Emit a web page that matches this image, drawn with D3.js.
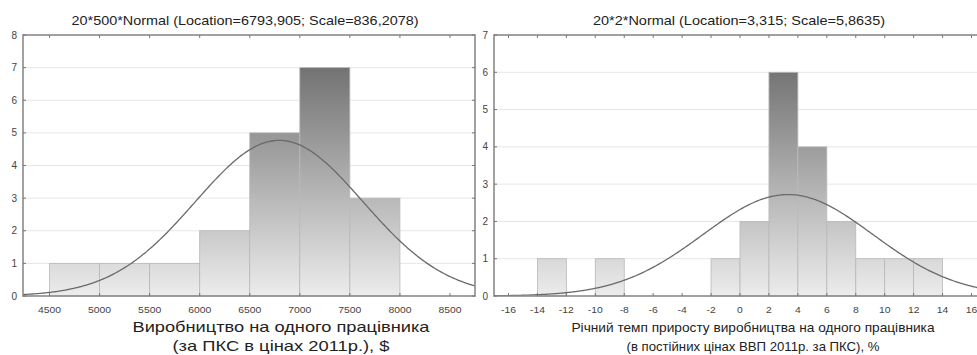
<!DOCTYPE html>
<html>
<head>
<meta charset="utf-8">
<script src="https://cdn.jsdelivr.net/npm/d3@7"></script>
<style>
  body { margin: 0; background: #fff; }
  text { font-family: "Liberation Sans", Arial, sans-serif; }
</style>
</head>
<body>
<div id="chart"></div>
<script>
// Left histogram: production per worker
const leftBinStarts = [4500, 5000, 5500, 6000, 6500, 7000, 7500];
const leftCounts = [1, 1, 1, 2, 5, 7, 3];
const leftBinWidth = 500;
const leftFit = { n: 20, location: 6793.905, scale: 836.2078 };
const leftXTicks = [4500, 5000, 5500, 6000, 6500, 7000, 7500, 8000, 8500];
const leftYTicks = [0, 1, 2, 3, 4, 5, 6, 7, 8];
const leftTitle = "20*500*Normal (Location=6793,905; Scale=836,2078)";
const leftXTitle = ["Виробництво на одного працівника", "(за ПКС в цінах 2011р.), $"];

// Right histogram: annual growth rate
const rightBinStarts = [-14, -12, -10, -8, -6, -4, -2, 0, 2, 4, 6, 8, 10, 12];
const rightCounts = [1, 0, 1, 0, 0, 0, 1, 2, 6, 4, 2, 1, 1, 1];
const rightBinWidth = 2;
const rightFit = { n: 20, location: 3.315, scale: 5.8635 };
const rightXTicks = [-16, -14, -12, -10, -8, -6, -4, -2, 0, 2, 4, 6, 8, 10, 12, 14, 16];
const rightYTicks = [0, 1, 2, 3, 4, 5, 6, 7];
const rightTitle = "20*2*Normal (Location=3,315; Scale=5,8635)";
const rightXTitle = ["Річний темп приросту виробництва на одного працівника", "(в постійних цінах ВВП 2011р. за ПКС), %"];

const width = 977, height = 355;
const svg = d3.select("#chart").append("svg")
  .attr("width", width).attr("height", height);

function panel(opt) {
  const { left, right, top, bottom, xDomain, yMax, binStarts, counts, binWidth,
          fit, xTicks, yTicks, title, xTitle, id, titleX, titleW, xTitleX, xTitleW, xTitleSize } = opt;
  const x = d3.scaleLinear().domain(xDomain).range([left, right]);
  const y = d3.scaleLinear().domain([0, yMax]).range([bottom, top]);

  const defs = svg.append("defs");
  const grad = defs.append("linearGradient")
    .attr("id", `${id}-grad`)
    .attr("gradientUnits", "userSpaceOnUse")
    .attr("x1", 0).attr("x2", 0).attr("y1", top).attr("y2", bottom);
  grad.append("stop").attr("offset", 0).attr("stop-color", "#616161");
  grad.append("stop").attr("offset", 1).attr("stop-color", "#ececec");

  svg.append("clipPath").attr("id", `${id}-clip`)
    .append("rect").attr("x", left).attr("y", top)
    .attr("width", right - left).attr("height", bottom - top);

  const g = svg.append("g");

  // gridlines
  g.append("g").selectAll("line").data(yTicks.slice(1, -1)).join("line")
    .attr("x1", left).attr("x2", right)
    .attr("y1", d => y(d)).attr("y2", d => y(d))
    .attr("stroke", "#e6e6e6").attr("stroke-width", 1);

  // bars
  g.append("g").selectAll("rect")
    .data(binStarts.map((s, i) => ({ s, c: counts[i] })).filter(d => d.c > 0))
    .join("rect")
    .attr("x", d => x(d.s))
    .attr("y", d => y(d.c))
    .attr("width", d => x(d.s + binWidth) - x(d.s))
    .attr("height", d => y(0) - y(d.c))
    .attr("fill", `url(#${id}-grad)`)
    .attr("stroke", "#b8b8b8").attr("stroke-width", 0.8);

  // fitted normal curve
  const norm = v => fit.n * binWidth / (fit.scale * Math.sqrt(2 * Math.PI)) *
    Math.exp(-0.5 * Math.pow((v - fit.location) / fit.scale, 2));
  const xs = d3.range(0, 301).map(i => xDomain[0] + (xDomain[1] - xDomain[0]) * i / 300);
  g.append("path")
    .attr("clip-path", `url(#${id}-clip)`)
    .attr("d", d3.line().x(d => x(d)).y(d => y(norm(d))).curve(d3.curveBasis)(xs))
    .attr("fill", "none").attr("stroke", "#6a6a6a").attr("stroke-width", 1.3);

  // frame
  g.append("rect")
    .attr("x", left).attr("y", top)
    .attr("width", right - left).attr("height", bottom - top)
    .attr("fill", "none").attr("stroke", "#8a8a8a").attr("stroke-width", 1.6);

  // inner ticks
  const tk = g.append("g").attr("stroke", "#777").attr("stroke-width", 1);
  tk.selectAll(".tt").data(xTicks).join("line")
    .attr("x1", d => x(d)).attr("x2", d => x(d)).attr("y1", top).attr("y2", top + 3);
  tk.selectAll(".tb").data(xTicks).join("line")
    .attr("x1", d => x(d)).attr("x2", d => x(d)).attr("y1", bottom).attr("y2", bottom - 3);
  tk.selectAll(".tl").data(yTicks).join("line")
    .attr("x1", left).attr("x2", left + 3).attr("y1", d => y(d)).attr("y2", d => y(d));
  tk.selectAll(".tr").data(yTicks).join("line")
    .attr("x1", right).attr("x2", right - 3).attr("y1", d => y(d)).attr("y2", d => y(d));

  // tick labels (source image is stretched horizontally)
  g.append("g").selectAll("text").data(xTicks).join("text")
    .attr("transform", d => `translate(${x(d)},${bottom + 17}) scale(1.22,1)`)
    .attr("text-anchor", "middle").attr("font-size", 8.5).attr("fill", "#444")
    .text(d => d);
  g.append("g").selectAll("text").data(yTicks).join("text")
    .attr("x", left - 6).attr("y", d => y(d)).attr("dy", "0.35em")
    .attr("text-anchor", "end").attr("font-size", 10).attr("fill", "#444")
    .text(d => d);

  // titles, widths fitted to the source
  svg.append("text")
    .attr("x", titleX - titleW / 2).attr("y", 25)
    .attr("textLength", titleW).attr("lengthAdjust", "spacingAndGlyphs")
    .attr("font-size", 13).attr("fill", "#222")
    .text(title);
  svg.append("g").selectAll("text").data(xTitle).join("text")
    .attr("x", (d, i) => xTitleX - xTitleW[i] / 2)
    .attr("y", (d, i) => 332 + i * 19)
    .attr("textLength", (d, i) => xTitleW[i]).attr("lengthAdjust", "spacingAndGlyphs")
    .attr("font-size", xTitleSize).attr("fill", "#222")
    .text(d => d);
}

panel({
  id: "l", left: 23, right: 475, top: 35, bottom: 296,
  xDomain: [4235, 8750], yMax: 8,
  binStarts: leftBinStarts, counts: leftCounts, binWidth: leftBinWidth, fit: leftFit,
  xTicks: leftXTicks, yTicks: leftYTicks, title: leftTitle, xTitle: leftXTitle,
  titleX: 245, titleW: 347, xTitleX: 281, xTitleW: [297, 217], xTitleSize: 15
});

panel({
  id: "r", left: 494, right: 986, top: 35, bottom: 296,
  xDomain: [-17, 17], yMax: 7,
  binStarts: rightBinStarts, counts: rightCounts, binWidth: rightBinWidth, fit: rightFit,
  xTicks: rightXTicks, yTicks: rightYTicks, title: rightTitle, xTitle: rightXTitle,
  titleX: 739, titleW: 292, xTitleX: 753, xTitleW: [363, 253], xTitleSize: 13.5
});
</script>
</body>
</html>
